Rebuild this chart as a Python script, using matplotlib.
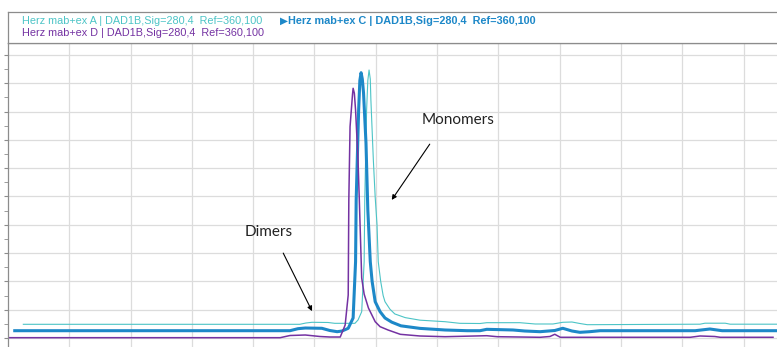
import matplotlib.pyplot as plt
import numpy as np

# retention time (min) and signal (mAU) for the three DAD traces
t_a = [0.25, 4.76, 4.86, 4.96, 5.22, 5.33, 5.66, 5.71, 5.77, 5.81, 5.82, 5.85,
       5.87, 5.89, 5.91, 5.92, 5.96, 5.99, 6.02, 6.04, 6.08, 6.12, 6.15, 6.23,
       6.31, 6.48, 6.72, 7.13, 7.37, 7.70, 7.81, 8.35, 8.60, 8.89, 9.05, 9.20,
       9.33, 9.45, 11.29, 11.37, 11.70, 11.78, 12.55]
sig_a = [4.84, 4.84, 5.30, 5.55, 5.48, 5.19, 5.19, 6.36, 9.29, 26.96, 48.76,
         80.57, 91.0, 94.70, 91.5, 84.10, 62.90, 49.8, 40.0, 26.96, 20.0, 15.0,
         12.83, 10.2, 8.5, 7.2, 6.3, 5.76, 5.19, 5.12, 5.41, 5.41, 4.95, 4.95,
         5.55, 5.65, 5.12, 4.70, 4.88, 5.23, 5.23, 4.88, 4.88]

t_c = [0.11, 4.60, 4.73, 4.85, 5.12, 5.25, 5.37, 5.45, 5.55, 5.63, 5.67, 5.68,
       5.72, 5.74, 5.76, 5.78, 5.80, 5.84, 5.87, 5.91, 5.94, 5.99, 6.07, 6.15,
       6.26, 6.41, 6.72, 7.13, 7.49, 7.70, 7.81, 8.24, 8.43, 8.68, 8.92, 9.05,
       9.20, 9.33, 9.49, 9.66, 11.21, 11.45, 11.65, 12.55]
sig_c = [2.58, 2.58, 3.29, 3.53, 3.43, 2.65, 2.23, 2.47, 3.43, 7.07, 26.96,
         48.76, 80.57, 91.0, 93.75, 91.5, 86.57, 68.90, 45.2, 26.96, 20.0,
         12.83, 9.3, 7.07, 5.6, 4.3, 3.4, 2.83, 2.58, 2.58, 3.07, 2.83, 2.47,
         2.23, 2.65, 3.43, 2.47, 2.01, 2.23, 2.58, 2.58, 3.18, 2.58, 2.58]

t_d = [0.0, 4.44, 4.60, 4.85, 5.09, 5.25, 5.42, 5.50, 5.55, 5.56, 5.58, 5.62,
       5.63, 5.65, 5.67, 5.71, 5.73, 5.77, 5.81, 5.88, 5.99, 6.07, 6.20, 6.40,
       6.72, 7.13, 7.81, 7.98, 8.68, 8.84, 8.92, 9.01, 11.13, 11.29, 11.53,
       11.62, 12.48]
sig_d = [0.11, 0.11, 0.88, 1.06, 0.53, 0.35, 0.35, 4.59, 15.19, 48.76, 74.66,
         86.0, 88.23, 86.5, 80.57, 62.90, 49.5, 21.20, 15.5, 10.60, 5.76, 4.0,
         2.83, 1.3, 0.71, 0.46, 0.81, 0.46, 0.25, 0.53, 1.31, 0.25, 0.25, 0.71,
         0.53, 0.25, 0.25]

legend_a = "Herz mab+ex A | DAD1B,Sig=280,4  Ref=360,100"
legend_c = "Herz mab+ex C | DAD1B,Sig=280,4  Ref=360,100"
legend_d = "Herz mab+ex D | DAD1B,Sig=280,4  Ref=360,100"

col_a = "#4cc4c6"
col_c = "#1d88c8"
col_d = "#7432a2"
grid_col = "#dcdcdc"
frame_col = "#8c8c8c"

W, H = 777, 347
fig = plt.figure(figsize=(W / 100, H / 100), dpi=100)

# chromatogram panel
ax = fig.add_axes([8 / W, 0, 1 - 8 / W, (H - 43) / H])
ax.plot(t_a, sig_a, color=col_a, lw=0.8)
ax.plot(t_c, sig_c, color=col_c, lw=2.2)
ax.plot(t_d, sig_d, color=col_d, lw=1.1)

ax.set_xlim(0, 12.545)
ax.set_ylim(-3.18, 104.24)
ax.set_xticks(np.arange(1, 13))
ax.set_yticks(np.arange(0, 101, 10))
ax.set_yticks(np.arange(5, 101, 10), minor=True)
ax.grid(True, color=grid_col, lw=0.9)
ax.set_axisbelow(True)
ax.tick_params(axis="x", length=0, labelbottom=False)
ax.tick_params(axis="y", which="both", length=3, color=frame_col,
               labelleft=False, direction="out")
for side in ["right", "bottom"]:
    ax.spines[side].set_visible(False)
ax.spines["left"].set_color(frame_col)
ax.spines["top"].set_color(frame_col)
ax.spines["left"].set_linewidth(0.9)
ax.spines["top"].set_linewidth(0.9)

# peak labels
ann_font = dict(family=["Lato", "DejaVu Sans"], fontsize=11, color="#222222")
arrow = dict(arrowstyle="-|>", lw=0.8, color="black", mutation_scale=7,
             shrinkA=0, shrinkB=0)
ax.text(4.25, 37.5, "Dimers", ha="center", va="center", **ann_font)
ax.annotate("", xy=(4.96, 9.5), xytext=(4.49, 30.0), arrowprops=arrow)
ax.text(7.35, 77.0, "Monomers", ha="center", va="center", **ann_font)
ax.annotate("", xy=(6.26, 48.8), xytext=(6.88, 68.5), arrowprops=arrow)

# legend strip above the traces
lg = fig.add_axes([8 / W, (H - 43) / H, 1 - 8 / W, 31 / H])
lg.set_xlim(8, W)
lg.set_ylim(43, 12)
lg.set_xticks([])
lg.set_yticks([])
lg.spines["right"].set_visible(False)
for side in ["left", "top", "bottom"]:
    lg.spines[side].set_color(frame_col)
    lg.spines[side].set_linewidth(0.9)

leg_font = dict(family=["Liberation Sans", "DejaVu Sans"], fontsize=7.8,
                va="center", ha="left")
lg.text(22, 21, legend_a, color=col_a, **leg_font)
lg.text(22, 33, legend_d, color=col_d, **leg_font)
lg.text(280, 21, "\u25B6", color=col_c, family="DejaVu Sans", fontsize=7.5,
        va="center", ha="left")
lg.text(288, 21, legend_c, color=col_c, fontweight="bold", **leg_font)

fig.savefig("out.png", dpi=100)
